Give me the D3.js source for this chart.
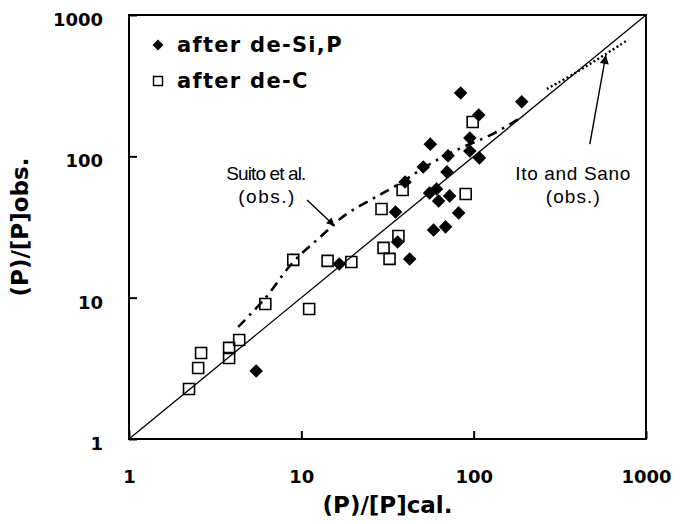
<!DOCTYPE html>
<html>
<head>
<meta charset="utf-8">
<script src="https://cdn.jsdelivr.net/npm/d3@7"></script>
<style>
  html, body { margin: 0; padding: 0; background: #fff; }
  svg { display: block; }
</style>
</head>
<body>
<svg id="chart" width="686" height="524"></svg>
<script>
// ---------- data ----------
const tickValues = [1, 10, 100, 1000];
const tickLabels = ["1", "10", "100", "1000"];

// after de-Si,P (filled diamonds)
const desiX = [84, 190, 107, 95, 56, 95, 108, 71, 51, 70, 40, 55.5, 60.9, 62.6, 72.5, 35.2, 81.8, 58.5, 68.7, 36.2, 42.5, 16.6, 5.47];
const desiY = [281, 243, 196, 135, 122, 109, 97.5, 101, 84, 77.6, 65.9, 55.1, 58.8, 48.3, 52.5, 40.4, 39.8, 30.1, 31.7, 24.8, 18.8, 17.3, 3.03];

// after de-C (open squares)
const decX = [98.7, 89.9, 38.7, 29.2, 36.6, 30.0, 32.5, 19.5, 14.2, 8.98, 6.18, 11.1, 4.36, 3.81, 3.81, 2.62, 2.52, 2.23];
const decY = [175, 54.2, 57.8, 42.4, 27.3, 22.5, 18.8, 17.9, 18.2, 18.5, 9.02, 8.32, 5.02, 4.41, 3.74, 4.06, 3.18, 2.26];

// Suito et al. (obs.) curve
const suitoX = [4.3, 6.18, 8.98, 12.9, 18.0, 25.2, 35.2, 58.5, 85.1, 126, 195];
const suitoY = [6.21, 9.95, 17.9, 26.9, 38.5, 49.1, 61.7, 91.3, 115, 142, 193];

// Ito and Sano (obs.) line
const itoX = [266, 390, 786];
const itoY = [300, 390, 666];

// 1:1 line
const diagX = [1, 1000];
const diagY = [1, 1000];

// annotation labels and arrows
const suitoLabel = ["Suito et al.", "(obs.)"];
const itoLabel = ["Ito and Sano", "(obs.)"];
const suitoLabelPos = [6.26, 68.2, 46.6];
const itoLabelPos = [376, 68.2, 46.6];
const suitoArrowX = [10.8, 15.6];
const suitoArrowY = [49.1, 32.2];
const itoArrowX = [472, 585];
const itoArrowY = [122, 522];

const legendLabels = ["after de-Si,P", "after de-C"];
const xTitle = "(P)/[P]cal.";
const yTitle = "(P)/[P]obs.";

// ---------- drawing ----------
const svg = d3.select("#chart");
const pL = 129, pR = 646, pT = 15, pB = 439;

const x = d3.scaleLog().domain([1, 1000]).range([pL, pR]);
const y = d3.scaleLog().domain([1, 1000]).range([pB, pT]);

const defs = svg.append("defs");
defs.append("marker")
  .attr("id", "arrowS").attr("viewBox", "0 0 10 10")
  .attr("refX", 10).attr("refY", 5)
  .attr("markerWidth", 11).attr("markerHeight", 8)
  .attr("markerUnits", "userSpaceOnUse")
  .attr("orient", "auto")
  .append("path").attr("d", "M0,0 L10,5 L0,10 Z").attr("fill", "#000");
defs.append("marker")
  .attr("id", "arrowI").attr("viewBox", "0 0 10 10")
  .attr("refX", 10).attr("refY", 5)
  .attr("markerWidth", 13).attr("markerHeight", 9)
  .attr("markerUnits", "userSpaceOnUse")
  .attr("orient", "auto")
  .append("path").attr("d", "M0,0 L10,5 L0,10 Z").attr("fill", "#000");

// axes
const fontBold = "'DejaVu Sans', Verdana, sans-serif";
const xAxis = svg.append("g")
  .attr("transform", `translate(0,${pB})`)
  .call(d3.axisBottom(x).tickValues(tickValues).tickFormat((d, i) => tickLabels[i])
        .tickSize(-8).tickSizeOuter(0).tickPadding(31));
const yAxis = svg.append("g")
  .attr("transform", `translate(${pL},0)`)
  .call(d3.axisLeft(y).tickValues(tickValues).tickFormat((d, i) => tickLabels[i])
        .tickSize(-8).tickSizeOuter(0).tickPadding(26));
[xAxis, yAxis].forEach(g => {
  g.select(".domain").remove();
  g.selectAll(".tick line").attr("stroke", "#000").attr("stroke-width", 2);
  g.selectAll(".tick text")
    .attr("fill", "#000")
    .style("font-family", fontBold)
    .style("font-weight", "bold")
    .style("font-size", "18px");
});
yAxis.selectAll(".tick text").attr("dy", "0.58em");

// frame
svg.append("rect")
  .attr("x", pL).attr("y", pT)
  .attr("width", pR - pL).attr("height", pB - pT)
  .attr("fill", "none").attr("stroke", "#000").attr("stroke-width", 2);

// diagonal 1:1
const lineGen = d3.line().x(d => x(d[0])).y(d => y(d[1]));
svg.append("path")
  .attr("d", lineGen(diagX.map((v, i) => [v, diagY[i]])))
  .attr("fill", "none").attr("stroke", "#000").attr("stroke-width", 1.3);

// Suito curve (dash-dot)
svg.append("path")
  .attr("d", d3.line().x(d => x(d[0])).y(d => y(d[1])).curve(d3.curveCatmullRom.alpha(0.5))(suitoX.map((v, i) => [v, suitoY[i]])))
  .attr("fill", "none").attr("stroke", "#000").attr("stroke-width", 2.6)
  .attr("stroke-dasharray", "10,6,2.5,6");

// Ito and Sano (dotted)
svg.append("path")
  .attr("d", d3.line().x(d => x(d[0])).y(d => y(d[1])).curve(d3.curveCatmullRom.alpha(0.5))(itoX.map((v, i) => [v, itoY[i]])))
  .attr("fill", "none").attr("stroke", "#000").attr("stroke-width", 2.4)
  .attr("stroke-dasharray", "2,2.5");

// arrows
svg.append("line")
  .attr("x1", x(suitoArrowX[0])).attr("y1", y(suitoArrowY[0]))
  .attr("x2", x(suitoArrowX[1])).attr("y2", y(suitoArrowY[1]))
  .attr("stroke", "#000").attr("stroke-width", 1.4).attr("marker-end", "url(#arrowS)");
svg.append("line")
  .attr("x1", x(itoArrowX[0])).attr("y1", y(itoArrowY[0]))
  .attr("x2", x(itoArrowX[1])).attr("y2", y(itoArrowY[1]))
  .attr("stroke", "#000").attr("stroke-width", 1.4).attr("marker-end", "url(#arrowI)");

// markers
const diamond = d3.symbol().type(d3.symbolSquare).size(92);
const square = d3.symbol().type(d3.symbolSquare).size(121);

svg.append("g").selectAll("path")
  .data(desiX.map((v, i) => [v, desiY[i]]))
  .join("path")
  .attr("d", diamond)
  .attr("transform", d => `translate(${x(d[0])},${y(d[1])}) rotate(45)`)
  .attr("fill", "#000");

svg.append("g").selectAll("path")
  .data(decX.map((v, i) => [v, decY[i]]))
  .join("path")
  .attr("d", square)
  .attr("transform", d => `translate(${x(d[0])},${y(d[1])})`)
  .attr("fill", "none").attr("stroke", "#000").attr("stroke-width", 1.6);

// annotation text
const fontReg = "'Liberation Sans', Arial, sans-serif";
function annot(lines, pos, widths) {
  lines.forEach((t, i) => {
    svg.append("text")
      .attr("x", x(pos[0])).attr("y", y(pos[1 + i]))
      .attr("text-anchor", "middle")
      .attr("textLength", widths[i]).attr("lengthAdjust", "spacing")
      .style("font-family", fontReg).style("font-size", "19px")
      .text(t);
  });
}
annot(suitoLabel, suitoLabelPos, [80, 56]);
annot(itoLabel, itoLabelPos, [115, 54]);

// legend
const lg = svg.append("g");
lg.append("path").attr("d", d3.symbol().type(d3.symbolSquare).size(60))
  .attr("transform", "translate(158,45) rotate(45)").attr("fill", "#000");
lg.append("path").attr("d", d3.symbol().type(d3.symbolSquare).size(81))
  .attr("transform", "translate(158,81)").attr("fill", "none").attr("stroke", "#000").attr("stroke-width", 1.4);
legendLabels.forEach((t, i) => {
  lg.append("text")
    .attr("x", 177).attr("y", 52 + i * 36)
    .style("font-family", fontBold).style("font-weight", "bold")
    .style("font-size", "21px").style("letter-spacing", "1.3px")
    .text(t);
});

// axis titles
svg.append("text")
  .attr("x", (pL + pR) / 2).attr("y", 513)
  .attr("text-anchor", "middle")
  .style("font-family", fontBold).style("font-weight", "bold").style("font-size", "23px")
  .text(xTitle);
svg.append("text")
  .attr("transform", `translate(28,${(pT + pB) / 2}) rotate(-90)`)
  .attr("text-anchor", "middle")
  .style("font-family", fontBold).style("font-weight", "bold").style("font-size", "23px")
  .text(yTitle);
</script>
</body>
</html>
